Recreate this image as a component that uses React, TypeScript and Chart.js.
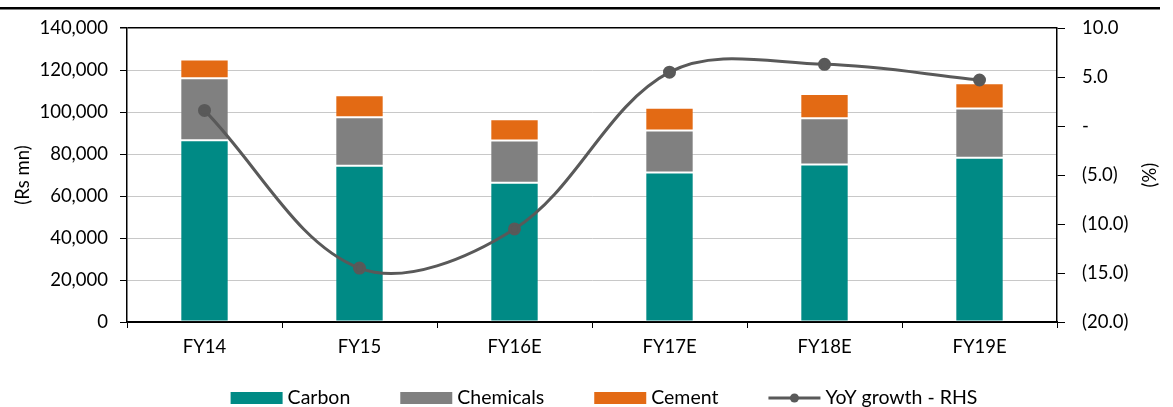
import React, { useEffect, useRef } from "react";
import { Chart, registerables } from "chart.js";

Chart.register(...registerables);

const categories = ["FY14", "FY15", "FY16E", "FY17E", "FY18E", "FY19E"];
const carbon = [86600, 74400, 66300, 71200, 75000, 78200];
const chemicals = [29500, 23100, 20100, 20000, 22100, 23500];
const cement = [8900, 10500, 10200, 10800, 11500, 12000];
const yoyGrowth = [1.6, -14.5, -10.5, 5.5, 6.3, 4.7];

const seriesNames = ["Carbon", "Chemicals", "Cement", "YoY growth - RHS"];
const leftAxisTitle = "(Rs mn)";
const rightAxisTitle = "(%)";

const TEAL = "#008A85";
const GRAY = "#808080";
const ORANGE = "#E36A14";
const LINE = "#595959";
const FONT = "Lato";
const FS = 18.5;
const LEGEND_FS = 19.5;

const fmtLeft = (v: number) => v.toLocaleString("en-US");
const fmtRight = (v: number) => {
  if (Math.abs(v) < 1e-9) return "-";
  const s = Math.abs(v).toFixed(1);
  return v < 0 ? `(${s})` : s;
};

const decor = {
  id: "decor",
  afterDraw(chart: any) {
    const { ctx, chartArea } = chart;
    ctx.save();
    // top rule
    ctx.fillStyle = "#000";
    ctx.fillRect(0, 7, chart.width - 13, 2.5);

    // right axis title
    ctx.save();
    ctx.translate(chartArea.right + 93, (chartArea.top + chartArea.bottom) / 2);
    ctx.rotate(-Math.PI / 2);
    ctx.font = `${FS}px ${FONT}`;
    ctx.fillStyle = "#000";
    ctx.textAlign = "center";
    ctx.textBaseline = "middle";
    ctx.fillText(rightAxisTitle, 0, 0);
    ctx.restore();

    // legend
    ctx.font = `${LEGEND_FS}px ${FONT}`;
    const boxW = 52;
    const boxH = 12;
    const gap = 5;
    const spacing = 50;
    const colors = [TEAL, GRAY, ORANGE, LINE];
    const widths = seriesNames.map((n) => boxW + gap + ctx.measureText(n).width);
    const total = widths.reduce((a, b) => a + b, 0) + spacing * (widths.length - 1);
    const center = (chartArea.left + chartArea.right) / 2 + 12;
    let x = center - total / 2;
    const yMid = 398;
    const baseline = 404;
    seriesNames.forEach((name, i) => {
      if (i < 3) {
        ctx.fillStyle = colors[i];
        ctx.fillRect(x, yMid - boxH / 2, boxW, boxH);
      } else {
        ctx.strokeStyle = LINE;
        ctx.lineWidth = 3;
        ctx.beginPath();
        ctx.moveTo(x, yMid);
        ctx.lineTo(x + boxW, yMid);
        ctx.stroke();
        ctx.fillStyle = LINE;
        ctx.beginPath();
        ctx.arc(x + boxW / 2, yMid, 4.5, 0, Math.PI * 2);
        ctx.fill();
      }
      ctx.fillStyle = "#000";
      ctx.textAlign = "left";
      ctx.textBaseline = "alphabetic";
      ctx.fillText(name, x + boxW + gap, baseline);
      x += widths[i] + spacing;
    });
    ctx.restore();
  },
};

export default function App() {
  const ref = useRef<HTMLCanvasElement | null>(null);

  useEffect(() => {
    document.body.style.margin = "0";
    const canvas = ref.current;
    if (!canvas) return;
    const font = { family: FONT, size: FS };
    const barCommon = {
      type: "bar" as const,
      yAxisID: "y",
      categoryPercentage: 1,
      barPercentage: 0.312,
      borderWidth: 1,
      borderColor: "rgba(255,255,255,0.22)",
      borderSkipped: false,
      order: 1,
    };
    const chart = new Chart(canvas, {
      type: "bar",
      data: {
        labels: categories,
        datasets: [
          { ...barCommon, label: seriesNames[0], data: carbon, backgroundColor: TEAL },
          { ...barCommon, label: seriesNames[1], data: chemicals, backgroundColor: GRAY },
          { ...barCommon, label: seriesNames[2], data: cement, backgroundColor: ORANGE },
          {
            type: "line",
            label: seriesNames[3],
            data: yoyGrowth,
            yAxisID: "y1",
            borderColor: LINE,
            backgroundColor: LINE,
            borderWidth: 3,
            pointRadius: 5,
            pointBackgroundColor: LINE,
            pointBorderColor: LINE,
            tension: 0.35,
            order: 0,
          } as any,
        ],
      },
      options: {
        animation: false,
        responsive: false,
        layout: { padding: { left: 0, right: 0, top: 27, bottom: 0 } },
        plugins: { legend: { display: false }, tooltip: { enabled: false } },
        scales: {
          x: {
            stacked: true,
            grid: {
              offset: true,
              drawOnChartArea: false,
              drawTicks: true,
              tickLength: 6,
              tickColor: "#000",
            },
            border: { color: "#000", width: 1.5 },
            ticks: { font, color: "#000", padding: 8 },
            afterFit: (s: any) => {
              s.height = 85;
            },
          },
          y: {
            stacked: true,
            position: "left",
            min: 0,
            max: 140000,
            ticks: { stepSize: 20000, font, color: "#000", padding: 12, callback: (v: any) => fmtLeft(Number(v)) },
            grid: {
              color: (c: any) => (c.tick && (c.tick.value === 140000 || c.tick.value === 0) ? "#000" : "#C8C8C8"),
              lineWidth: (c: any) => (c.tick && c.tick.value === 140000 ? 1.5 : 1),
              tickColor: "#000",
              tickLength: 7,
            },
            border: { color: "#000", width: 1.5 },
            title: { display: true, text: leftAxisTitle, font, color: "#000", padding: { top: 12, bottom: 0 } },
            afterFit: (s: any) => {
              s.width = 127;
            },
          },
          y1: {
            position: "right",
            min: -20,
            max: 10,
            ticks: { stepSize: 5, font, color: "#000", padding: 17, callback: (v: any) => fmtRight(Number(v)) },
            grid: { drawOnChartArea: false, tickColor: "#000", tickLength: 8 },
            border: { color: "#000", width: 1.5 },
            afterFit: (s: any) => {
              s.width = 116;
            },
          },
        },
      },
      plugins: [decor],
    });
    return () => chart.destroy();
  }, []);

  return <canvas ref={ref} width={1173} height={407} style={{ display: "block" }} />;
}
